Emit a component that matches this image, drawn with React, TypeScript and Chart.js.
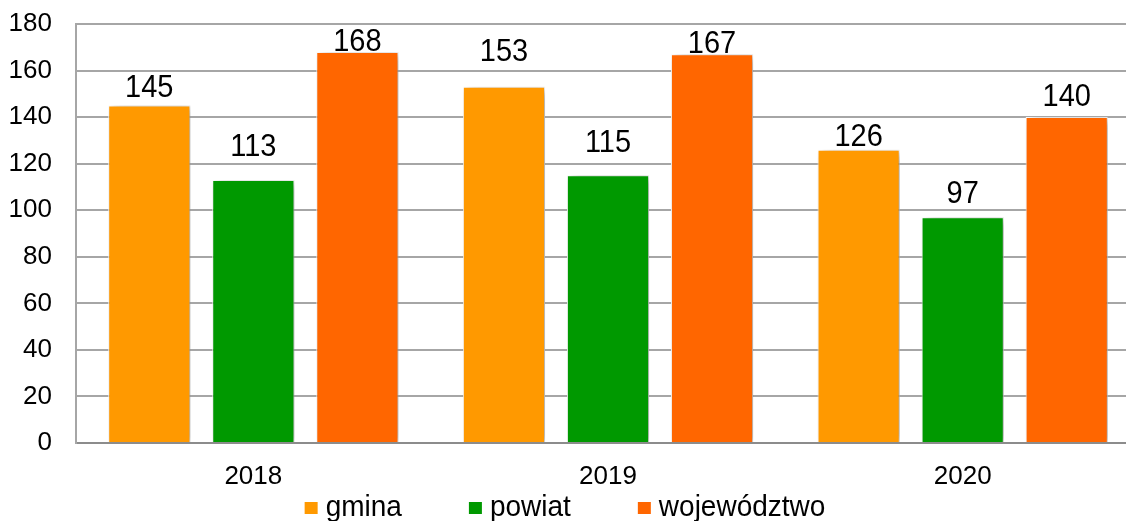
import React, { useEffect, useRef } from "react";
import { Chart, registerables } from "chart.js";

Chart.register(...registerables);

const categories = ["2018", "2019", "2020"];
const seriesNames = ["gmina", "powiat", "województwo"];
const gminaValues = [145, 153, 126];
const powiatValues = [113, 115, 97];
const wojewodztwoValues = [168, 167, 140];
const seriesColors = ["#FF9900", "#009900", "#FF6600"];
const yTicks = [0, 20, 40, 60, 80, 100, 120, 140, 160, 180];

// label gap (px) between the value text baseline and its bar top, as placed in the original
const gminaLabelGaps = [8, 26, 4];
const powiatLabelGaps = [24, 23, 14];
const wojewodztwoLabelGaps = [1, 1, 11];

const FONT = "Arial, 'Liberation Sans', sans-serif";

const shadowAndLabels = {
  id: "shadowAndLabels",
  beforeDatasetsDraw(chart: any) {
    const ctx = chart.ctx;
    ctx.save();
    ctx.shadowColor = "rgba(0,0,0,0.38)";
    ctx.shadowBlur = 9;
    ctx.shadowOffsetX = 4;
    ctx.shadowOffsetY = 2;
  },
  afterDatasetsDraw(chart: any) {
    const ctx = chart.ctx;
    ctx.restore();
    const gaps = [gminaLabelGaps, powiatLabelGaps, wojewodztwoLabelGaps];
    ctx.save();
    ctx.font = `29px ${FONT}`;
    ctx.fillStyle = "#000";
    ctx.textAlign = "center";
    ctx.textBaseline = "alphabetic";
    chart.data.datasets.forEach((ds: any, di: number) => {
      const meta = chart.getDatasetMeta(di);
      meta.data.forEach((el: any, i: number) => {
        const x = el.x;
        const y = el.y - gaps[di][i];
        ctx.save();
        ctx.translate(x, y);
        ctx.scale(1, 1.06);
        ctx.fillText(String(ds.data[i]), 0, 0);
        ctx.restore();
      });
    });
    ctx.restore();
  },
};

const customLegend = {
  id: "customLegend",
  afterDraw(chart: any) {
    const ctx = chart.ctx;
    ctx.save();
    ctx.font = `28px ${FONT}`;
    ctx.textBaseline = "middle";
    ctx.textAlign = "left";
    const box = 13;
    const gap = 8;
    const itemGap = 67;
    const items = chart.data.datasets.map((ds: any) => ({
      text: ds.label,
      color: ds.backgroundColor,
      w: ctx.measureText(ds.label).width,
    }));
    const total =
      items.reduce((s: number, it: any) => s + box + gap + it.w, 0) +
      itemGap * (items.length - 1);
    let x = chart.width / 2 - 5 - total / 2;
    const yMid = 508;
    items.forEach((it: any) => {
      ctx.fillStyle = it.color;
      ctx.fillRect(x, yMid - 6, box, 12);
      ctx.fillStyle = "#000";
      ctx.save();
      ctx.translate(x + box + gap, yMid);
      ctx.scale(1, 1.06);
      ctx.fillText(it.text, 0, 0);
      ctx.restore();
      x += box + gap + it.w + itemGap;
    });
    ctx.restore();
  },
};

export default function App() {
  const ref = useRef<HTMLCanvasElement | null>(null);

  useEffect(() => {
    if (!ref.current) return;
    Chart.defaults.font.family = FONT;
    const valuesList = [gminaValues, powiatValues, wojewodztwoValues];
    const chart = new Chart(ref.current, {
      type: "bar",
      data: {
        labels: categories,
        datasets: seriesNames.map((name, i) => ({
          label: name,
          data: valuesList[i],
          backgroundColor: seriesColors[i],
          borderColor: "#ffffff",
          borderWidth: 1,
          borderSkipped: "bottom",
          categoryPercentage: 0.88,
          barPercentage: 0.79,
        })),
      },
      options: {
        responsive: false,
        animation: false,
        devicePixelRatio: 1,
        layout: { padding: { top: 24, left: 0, right: 0, bottom: 0 } },
        plugins: {
          legend: { display: false },
          tooltip: { enabled: false },
        },
        scales: {
          x: {
            grid: { display: false },
            border: { display: true, color: "#8c8c8c", width: 2 },
            ticks: {
              color: "#000",
              font: { size: 26, family: FONT },
              padding: 10,
            },
            afterFit(scale: any) {
              scale.height = 78;
            },
          },
          y: {
            min: 0,
            max: 180,
            afterBuildTicks(scale: any) {
              scale.ticks = yTicks.map((v) => ({ value: v }));
            },
            grid: { color: "#a6a6a6", lineWidth: 2, drawTicks: false },
            border: { display: true, color: "#a6a6a6", width: 2 },
            ticks: {
              color: "#000",
              font: { size: 26, family: FONT },
              padding: 24,
            },
            afterFit(scale: any) {
              scale.width = 76;
              scale.paddingTop = 0;
              scale.paddingBottom = 0;
            },
          },
        },
      },
      plugins: [shadowAndLabels, customLegend],
    } as any);
    return () => chart.destroy();
  }, []);

  return (
    <div
      style={{
        position: "fixed",
        left: 0,
        top: 0,
        width: 1126,
        height: 521,
        overflow: "hidden",
        background: "#fff",
      }}
    >
      <canvas ref={ref} width={1140} height={521} style={{ display: "block" }} />
    </div>
  );
}
